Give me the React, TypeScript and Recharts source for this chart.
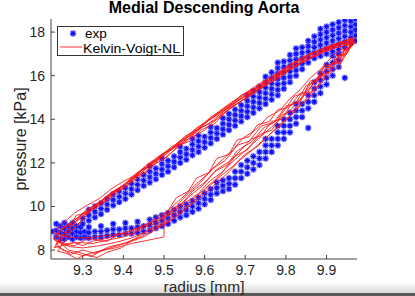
import React from 'react';
import { ComposedChart, Scatter, Line, XAxis, YAxis } from 'recharts';

const FONT = '"Liberation Sans", Arial, Helvetica, sans-serif';

const titleText = 'Medial Descending Aorta';
const xLabel = 'radius [mm]';
const yLabel = 'pressure [kPa]';
const seriesNames = ['exp', 'Kelvin-Voigt-NL'];

const xTicks = [9.3, 9.4, 9.5, 9.6, 9.7, 9.8, 9.9];
const yTicks = [8, 10, 12, 14, 16, 18];
const xDomain: [number, number] = [9.222, 9.975];
const yDomain: [number, number] = [7.59, 18.6];

// measured points, by column: [radius, pressure, pressure, ...]
const expLowerBranch: number[][] = [
  [9.225, 8.85],
  [9.235, 8.6, 8.9, 9.2],
  [9.245, 8.5, 8.8, 9.1],
  [9.255, 8.5, 8.75, 9.0, 9.25],
  [9.265, 8.6, 8.85, 9.1],
  [9.275, 8.5, 8.75, 9.0, 9.25],
  [9.285, 8.6, 8.85, 9.1],
  [9.295, 8.55, 8.8, 9.05],
  [9.305, 8.6, 8.85],
  [9.315, 8.55, 8.8, 9.05],
  [9.33, 8.6, 8.85],
  [9.345, 8.6, 8.85, 9.1],
  [9.36, 8.65, 8.9],
  [9.375, 8.7, 8.95, 9.2],
  [9.39, 8.7, 8.95],
  [9.405, 8.75, 9.0, 9.25],
  [9.42, 8.75, 9.0],
  [9.435, 8.8, 9.05, 9.3],
  [9.45, 8.85, 9.1],
  [9.465, 8.9, 9.15, 9.4],
  [9.48, 9.0, 9.25, 9.5],
  [9.495, 9.1, 9.35, 9.6],
  [9.51, 9.2, 9.45, 9.7],
  [9.525, 9.35, 9.6, 9.85],
  [9.54, 9.5, 9.75, 10.0],
  [9.555, 9.6, 9.85, 10.1],
  [9.57, 9.75, 10.0, 10.25],
  [9.585, 9.9, 10.15, 10.4],
  [9.6, 10.1, 10.35, 10.6],
  [9.615, 10.3, 10.55, 10.8],
  [9.63, 10.6, 10.85, 11.1],
  [9.645, 10.7, 10.95, 11.2],
  [9.66, 10.8, 11.05, 11.3],
  [9.675, 11.0, 11.3, 11.6],
  [9.69, 11.3, 11.6, 11.9],
  [9.705, 11.5, 11.8, 12.1],
  [9.72, 11.7, 12.0, 12.3],
  [9.735, 11.9, 12.2, 12.5],
  [9.75, 12.2, 12.5, 12.8, 13.1],
  [9.765, 12.5, 12.8, 13.1],
  [9.78, 12.8, 13.1, 13.4, 13.7],
  [9.795, 13.1, 13.4, 13.7, 14.0],
  [9.81, 13.4, 13.7, 14.0, 14.3],
  [9.825, 13.8, 14.1, 14.4, 14.7],
  [9.84, 14.1, 14.4, 14.7],
  [9.855, 13.6, 14.5, 14.8, 15.1],
  [9.87, 14.8, 15.1, 15.4, 15.7],
  [9.885, 15.2, 15.5, 15.8, 16.1],
  [9.9, 15.6, 15.9, 16.2, 16.5],
  [9.915, 16.0, 16.3, 16.6, 16.9],
  [9.93, 16.4, 16.7, 17.0],
  [9.945, 15.9],
];

const expUpperBranch: number[][] = [
  [9.3, 9.2, 9.45],
  [9.315, 9.35, 9.6, 9.85],
  [9.33, 9.5, 9.75, 10.0],
  [9.345, 9.65, 9.9, 10.15],
  [9.36, 9.85, 10.1, 10.35],
  [9.375, 10.05, 10.3, 10.55],
  [9.39, 10.2, 10.45, 10.7],
  [9.405, 10.35, 10.6, 10.85],
  [9.42, 10.55, 10.8, 11.05],
  [9.435, 10.75, 11.0, 11.25],
  [9.45, 10.95, 11.2, 11.45],
  [9.465, 11.1, 11.35, 11.6, 11.85],
  [9.48, 11.25, 11.5, 11.75],
  [9.495, 11.45, 11.7, 11.95, 12.2],
  [9.51, 11.6, 11.85, 12.1],
  [9.525, 11.8, 12.05, 12.3],
  [9.54, 12.0, 12.25, 12.5, 12.75],
  [9.555, 12.15, 12.4, 12.65],
  [9.57, 12.35, 12.6, 12.85, 13.1],
  [9.585, 12.5, 12.75, 13.0, 13.25],
  [9.6, 12.7, 12.95, 13.2],
  [9.615, 12.9, 13.15, 13.4, 13.65],
  [9.63, 13.1, 13.35, 13.6],
  [9.645, 13.3, 13.55, 13.8, 14.05],
  [9.66, 13.5, 13.75, 14.0, 14.25],
  [9.675, 13.7, 13.95, 14.2, 14.45],
  [9.69, 13.9, 14.15, 14.4, 14.65],
  [9.705, 14.1, 14.35, 14.6, 14.85, 15.1],
  [9.72, 14.3, 14.55, 14.8, 15.05, 15.3],
  [9.735, 14.5, 14.75, 15.0, 15.25, 15.5],
  [9.75, 14.7, 14.95, 15.2, 15.45, 15.7, 15.95],
  [9.765, 14.9, 15.15, 15.4, 15.65, 15.9, 16.15],
  [9.78, 15.1, 15.35, 15.6, 15.85, 16.1, 16.35, 16.6],
  [9.795, 15.4, 15.65, 15.9, 16.15, 16.4, 16.65],
  [9.81, 15.7, 15.95, 16.2, 16.45, 16.7, 16.95],
  [9.825, 16.0, 16.25, 16.5, 16.75, 17.0, 17.25],
  [9.84, 16.3, 16.55, 16.8, 17.05, 17.3],
  [9.855, 16.6, 16.85, 17.1, 17.35, 17.6],
  [9.87, 16.8, 17.05, 17.3, 17.55, 17.8],
  [9.885, 16.9, 17.15, 17.4, 17.65, 17.9, 18.15],
  [9.9, 17.0, 17.25, 17.5, 17.75, 18.0, 18.25],
  [9.915, 17.1, 17.35, 17.6, 17.85, 18.1, 18.35],
  [9.93, 17.2, 17.45, 17.7, 17.95, 18.2, 18.45],
  [9.945, 17.3, 17.55, 17.8, 18.05, 18.3, 18.55],
  [9.96, 17.5, 17.75, 18.0, 18.25, 18.5],
  [9.972, 17.6, 17.85, 18.1, 18.35, 18.6],
];

// model cycles: [radius, pressure] pairs, loading then unloading
const kvCycle1: number[][] = [
  [9.232, 8.7], [9.26, 9.15], [9.29, 9.5], [9.32, 9.95], [9.35, 10.3], [9.38, 10.75], [9.41, 11.1],
  [9.44, 11.6], [9.47, 12.0], [9.5, 12.45], [9.53, 12.8], [9.56, 13.3], [9.59, 13.7], [9.62, 14.15],
  [9.66, 14.7], [9.7, 15.2], [9.74, 15.7], [9.78, 16.1], [9.82, 16.6], [9.86, 17.0], [9.9, 17.3],
  [9.94, 17.55], [9.965, 17.7], [9.955, 17.35], [9.93, 16.9], [9.9, 16.3], [9.87, 15.7], [9.84, 15.0],
  [9.81, 14.4], [9.78, 13.9], [9.75, 13.4], [9.72, 12.9], [9.69, 12.4], [9.66, 11.9], [9.63, 11.3],
  [9.6, 10.8], [9.57, 10.3], [9.54, 9.8], [9.51, 9.4], [9.48, 9.05], [9.45, 8.8], [9.42, 8.55],
  [9.38, 8.35], [9.34, 8.2], [9.3, 8.1], [9.27, 8.15], [9.245, 8.35], [9.232, 8.7],
];
const kvCycle2: number[][] = [
  [9.228, 8.5], [9.25, 8.95], [9.275, 9.3], [9.31, 9.85], [9.335, 10.1], [9.37, 10.65], [9.4, 10.95],
  [9.43, 11.5], [9.455, 11.8], [9.49, 12.35], [9.52, 12.65], [9.55, 13.2], [9.585, 13.55], [9.615, 14.1],
  [9.65, 14.45], [9.69, 15.1], [9.725, 15.45], [9.765, 15.95], [9.8, 16.4], [9.84, 16.85], [9.88, 17.15],
  [9.92, 17.45], [9.955, 17.65], [9.97, 17.5], [9.945, 17.1], [9.925, 16.6], [9.905, 16.5], [9.885, 15.9],
  [9.86, 15.6], [9.835, 14.9], [9.8, 14.5], [9.775, 13.9], [9.745, 13.6], [9.715, 12.95], [9.68, 12.55],
  [9.655, 11.9], [9.625, 11.6], [9.595, 10.95], [9.565, 10.5], [9.535, 9.95], [9.505, 9.55], [9.475, 9.2],
  [9.44, 8.95], [9.4, 8.6], [9.36, 8.45], [9.325, 8.3], [9.29, 8.35], [9.26, 8.3], [9.24, 8.4], [9.228, 8.5],
];
const kvCycle3: number[][] = [
  [9.235, 8.3], [9.255, 8.8], [9.285, 9.35], [9.315, 9.75], [9.345, 10.25], [9.375, 10.6], [9.405, 11.05],
  [9.435, 11.4], [9.465, 11.9], [9.495, 12.25], [9.525, 12.7], [9.56, 13.1], [9.595, 13.65], [9.63, 14.0],
  [9.67, 14.6], [9.71, 15.05], [9.755, 15.6], [9.795, 16.15], [9.835, 16.55], [9.875, 16.95], [9.915, 17.3],
  [9.95, 17.5], [9.968, 17.6], [9.95, 17.0], [9.93, 16.95], [9.91, 16.2], [9.885, 16.0], [9.865, 15.3],
  [9.845, 15.1], [9.82, 14.4], [9.79, 14.2], [9.765, 13.5], [9.735, 13.3], [9.705, 12.6], [9.675, 12.3],
  [9.645, 11.6], [9.615, 11.2], [9.585, 10.6], [9.555, 10.2], [9.525, 9.7], [9.5, 9.5], [9.5, 8.6],
  [9.46, 8.45], [9.42, 8.3], [9.38, 8.1], [9.34, 7.95], [9.3, 7.75], [9.27, 7.9], [9.25, 8.0], [9.235, 8.3],
];
const kvCycle4: number[][] = [
  [9.23, 8.1], [9.245, 8.6], [9.27, 9.05], [9.3, 9.55], [9.33, 10.0], [9.36, 10.45], [9.39, 10.85],
  [9.42, 11.25], [9.45, 11.75], [9.48, 12.1], [9.51, 12.55], [9.545, 13.0], [9.575, 13.4], [9.605, 13.9],
  [9.645, 14.35], [9.68, 14.85], [9.72, 15.3], [9.76, 15.8], [9.81, 16.3], [9.85, 16.8], [9.895, 17.2],
  [9.935, 17.45], [9.972, 17.55], [9.96, 17.3], [9.94, 17.15], [9.92, 16.55], [9.895, 16.45], [9.875, 15.75],
  [9.85, 15.55], [9.825, 14.75], [9.8, 14.6], [9.77, 13.85], [9.74, 13.7], [9.71, 13.0], [9.68, 12.8],
  [9.65, 12.1], [9.62, 11.75], [9.59, 11.1], [9.56, 10.6], [9.53, 10.0], [9.5, 9.55], [9.47, 9.3],
  [9.43, 9.0], [9.39, 8.7], [9.35, 8.5], [9.31, 8.5], [9.28, 8.2], [9.255, 8.25], [9.23, 8.1],
];
const kvCycle5: number[][] = [
  [9.24, 8.4], [9.265, 8.9], [9.295, 9.6], [9.325, 9.9], [9.355, 10.4], [9.385, 10.7], [9.415, 11.2],
  [9.445, 11.55], [9.475, 12.05], [9.505, 12.4], [9.535, 12.95], [9.57, 13.3], [9.61, 13.95], [9.65, 14.5],
  [9.695, 15.0], [9.735, 15.55], [9.775, 15.95], [9.815, 16.5], [9.855, 16.9], [9.895, 17.3], [9.93, 17.4],
  [9.96, 17.75], [9.95, 17.45], [9.935, 16.75], [9.915, 16.35], [9.895, 15.95], [9.87, 15.35], [9.845, 14.85],
  [9.82, 14.3], [9.79, 13.85], [9.76, 13.3], [9.73, 12.75], [9.7, 12.4], [9.67, 11.85], [9.64, 11.4],
  [9.61, 10.9], [9.58, 10.35], [9.55, 9.85], [9.52, 9.4], [9.49, 9.1], [9.455, 8.65], [9.42, 8.4],
  [9.385, 8.2], [9.35, 8.0], [9.32, 7.7], [9.29, 7.9], [9.265, 8.0], [9.24, 8.4],
];
const kvCycle6: number[][] = [
  [9.226, 8.8], [9.25, 9.2], [9.28, 9.7], [9.31, 10.05], [9.34, 10.35], [9.37, 10.8], [9.4, 11.15],
  [9.43, 11.45], [9.46, 11.95], [9.49, 12.3], [9.52, 12.75], [9.55, 13.1], [9.58, 13.6], [9.615, 14.0],
  [9.655, 14.6], [9.7, 15.15], [9.745, 15.65], [9.785, 16.15], [9.825, 16.6], [9.865, 17.05], [9.905, 17.35],
  [9.945, 17.6], [9.97, 17.75], [9.96, 17.5], [9.94, 17.25], [9.92, 17.0], [9.9, 16.6], [9.88, 16.2],
  [9.86, 15.9], [9.835, 15.35], [9.81, 14.95], [9.785, 14.4], [9.755, 14.1], [9.725, 13.5], [9.695, 13.15],
  [9.665, 12.5], [9.635, 12.0], [9.605, 11.45], [9.575, 10.95], [9.545, 10.4], [9.515, 9.9], [9.485, 9.4],
  [9.45, 9.1], [9.41, 8.8], [9.37, 8.7], [9.33, 8.6], [9.29, 8.55], [9.26, 8.6], [9.226, 8.8],
];
const kvCycle7: number[][] = [
  [9.233, 8.2], [9.26, 8.7], [9.29, 9.2], [9.32, 9.8], [9.35, 10.15], [9.38, 10.55], [9.41, 11.0],
  [9.44, 11.35], [9.47, 11.85], [9.5, 12.2], [9.53, 12.65], [9.565, 13.15], [9.6, 13.5], [9.64, 14.2],
  [9.68, 14.7], [9.72, 15.25], [9.765, 15.7], [9.805, 16.2], [9.845, 16.65], [9.885, 17.0], [9.925, 17.3],
  [9.96, 17.45], [9.945, 17.0], [9.93, 16.4], [9.905, 16.05], [9.88, 15.5], [9.86, 15.0], [9.83, 14.55],
  [9.805, 14.05], [9.775, 13.55], [9.745, 13.05], [9.715, 12.55], [9.685, 12.1], [9.655, 11.5], [9.625, 11.0],
  [9.595, 10.5], [9.565, 10.05], [9.535, 9.6], [9.505, 9.2], [9.47, 8.85], [9.435, 8.55], [9.4, 8.3],
  [9.365, 8.15], [9.33, 7.85], [9.3, 8.0], [9.27, 7.8], [9.25, 8.05], [9.233, 8.2],
];
const kvCycle8: number[][] = [
  [9.231, 8.45], [9.245, 8.95], [9.27, 9.15], [9.285, 9.6], [9.31, 9.7], [9.33, 10.1], [9.36, 10.3],
  [9.38, 10.7], [9.405, 10.85], [9.43, 11.35], [9.455, 11.55], [9.48, 12.0], [9.51, 12.3], [9.535, 12.8],
  [9.565, 13.0], [9.59, 13.5], [9.625, 13.8], [9.66, 14.5], [9.7, 14.95], [9.74, 15.5], [9.78, 15.85],
  [9.82, 16.45], [9.86, 16.8], [9.9, 17.2], [9.94, 17.35], [9.965, 17.65], [9.955, 17.2], [9.945, 16.9],
  [9.925, 16.95], [9.91, 16.4], [9.89, 16.35], [9.875, 15.8], [9.86, 15.75], [9.845, 15.2], [9.82, 15.05],
  [9.8, 14.5], [9.78, 14.45], [9.76, 13.9], [9.73, 13.75], [9.71, 13.2], [9.68, 13.05], [9.66, 12.4],
  [9.63, 12.2], [9.61, 11.55], [9.58, 11.3], [9.56, 10.7], [9.53, 10.4], [9.51, 9.8], [9.48, 9.5],
  [9.455, 9.05], [9.42, 8.7], [9.39, 8.75], [9.36, 8.4], [9.33, 8.45], [9.3, 8.2], [9.28, 8.35],
  [9.255, 8.2], [9.231, 8.45],
];
const kvCycle9: number[][] = [
  [9.238, 7.95], [9.255, 8.4], [9.275, 8.95], [9.3, 9.4], [9.325, 9.9], [9.355, 10.25], [9.385, 10.8],
  [9.415, 11.1], [9.445, 11.65], [9.475, 11.95], [9.505, 12.5], [9.54, 12.85], [9.575, 13.45], [9.61, 13.8],
  [9.65, 14.4], [9.69, 14.95], [9.73, 15.35], [9.77, 15.9], [9.81, 16.35], [9.85, 16.7], [9.89, 17.15],
  [9.93, 17.5], [9.962, 17.55], [9.952, 17.1], [9.935, 16.55], [9.915, 16.6], [9.895, 16.0], [9.875, 15.9],
  [9.855, 15.25], [9.835, 15.2], [9.81, 14.6], [9.79, 14.0], [9.765, 13.9], [9.74, 13.25], [9.715, 13.1],
  [9.69, 12.6], [9.66, 12.05], [9.63, 11.7], [9.6, 11.1], [9.57, 10.7], [9.545, 10.15], [9.515, 9.75],
  [9.49, 9.25], [9.46, 8.9], [9.43, 8.55], [9.395, 8.1], [9.36, 7.9], [9.335, 7.65], [9.31, 7.8],
  [9.285, 7.6], [9.26, 7.85], [9.238, 7.95],
];

const kvCycles = [kvCycle1, kvCycle2, kvCycle3, kvCycle4, kvCycle5, kvCycle6, kvCycle7, kvCycle8, kvCycle9];

const columnsToPoints = (cols: number[][]) =>
  cols.flatMap(([r, ...ps]) => ps.map((p) => ({ r, p })));
const pairsToPoints = (pairs: number[][]) => pairs.map(([r, p]) => ({ r, p }));

const expPoints = [...columnsToPoints(expLowerBranch), ...columnsToPoints(expUpperBranch)];

const BLUE = '#0f0fff';
const HALO = '#6c6cff';
const RED = '#ff1010';

const Asterisk = (props: any) => {
  const { cx, cy } = props;
  if (cx == null || cy == null) return <g />;
  const a = 2.8;
  const d = 2.0;
  return (
    <g>
      <circle cx={cx} cy={cy} r={3.4} fill={HALO} fillOpacity={0.5} />
      <path
        d={`M${cx - a},${cy}H${cx + a}M${cx},${cy - a}V${cy + a}M${cx - d},${cy - d}L${cx + d},${cy + d}M${cx - d},${cy + d}L${cx + d},${cy - d}`}
        stroke={BLUE}
        strokeWidth={1.15}
        fill="none"
      />
    </g>
  );
};

const axisColor = '#404040';
const tickStyle = { fill: '#262626', fontSize: 14, fontFamily: FONT };

export default function App() {
  return (
    <div style={{ position: 'absolute', left: 0, top: 0, width: 415, height: 296, background: '#fff', overflow: 'hidden' }}>
      <div style={{ position: 'absolute', left: 0, top: 282, width: 415, height: 11, background: 'linear-gradient(#ffffff, #d9d9d9)' }} />
      <div style={{ position: 'absolute', left: 0, top: 293, width: 415, height: 3, background: '#5a5a5a' }} />
      <div style={{ position: 'absolute', left: 0, top: 0 }}>
        <ComposedChart width={415} height={296} margin={{ top: 19, right: 58, bottom: 7, left: 6 }}>
          <XAxis
            dataKey="r"
            type="number"
            domain={xDomain}
            ticks={xTicks}
            allowDataOverflow
            height={30}
            tickSize={-4}
            tickMargin={10}
            stroke={axisColor}
            tick={tickStyle}
            tickFormatter={(v: number) => v.toFixed(1)}
          />
          <XAxis
            xAxisId="top"
            orientation="top"
            dataKey="r"
            type="number"
            domain={xDomain}
            ticks={xTicks}
            allowDataOverflow
            height={0}
            tickSize={-4}
            stroke={axisColor}
            tick={false}
          />
          <YAxis
            type="number"
            domain={yDomain}
            ticks={yTicks}
            allowDataOverflow
            width={45}
            tickSize={-4}
            tickMargin={10}
            stroke={axisColor}
            tick={tickStyle}
          />
          <YAxis
            yAxisId="right"
            orientation="right"
            type="number"
            domain={yDomain}
            ticks={yTicks}
            allowDataOverflow
            width={0}
            tickSize={-4}
            stroke={axisColor}
            tick={false}
          />
          <Scatter
            name={seriesNames[0]}
            data={expPoints}
            dataKey="p"
            shape={Asterisk}
            isAnimationActive={false}
          />
          {kvCycles.map((c, i) => (
            <Line
              key={i}
              name={seriesNames[1]}
              data={pairsToPoints(c)}
              dataKey="p"
              type="linear"
              stroke={RED}
              strokeOpacity={0.85}
              strokeWidth={1}
              dot={false}
              activeDot={false}
              legendType="none"
              zIndex={650}
              isAnimationActive={false}
            />
          ))}
        </ComposedChart>
      </div>
      <svg width={415} height={296} style={{ position: 'absolute', left: 0, top: 0, pointerEvents: 'none' }}>
        <text x={204} y={13} textAnchor="middle" fontFamily={FONT} fontSize={16} fontWeight="bold" fill="#000">
          {titleText}
        </text>
        <text x={204} y={292} textAnchor="middle" fontFamily={FONT} fontSize={15.5} fill="#262626">
          {xLabel}
        </text>
        <text x={26} y={139} textAnchor="middle" fontFamily={FONT} fontSize={16} fill="#262626" transform="rotate(-90 26 139)">
          {yLabel}
        </text>
        <rect x={57.5} y={26.5} width={126} height={29} fill="#fff" stroke="#333" strokeWidth={1} />
        <g>
          <circle cx={73} cy={33.5} r={3.4} fill={HALO} fillOpacity={0.5} />
          <path d="M70.2,33.5H75.8M73,30.7V36.3M71,31.5L75,35.5M71,35.5L75,31.5" stroke={BLUE} strokeWidth={1.15} />
          <text x={85} y={37.5} fontFamily={FONT} fontSize={13.5} fill="#000">{seriesNames[0]}</text>
        </g>
        <g>
          <line x1={60} y1={47} x2={82} y2={47} stroke={RED} strokeOpacity={0.85} strokeWidth={1} />
          <text x={83} y={52.5} fontFamily={FONT} fontSize={13.5} fill="#000" textLength={97} lengthAdjust="spacingAndGlyphs">{seriesNames[1]}</text>
        </g>
      </svg>
    </div>
  );
}
